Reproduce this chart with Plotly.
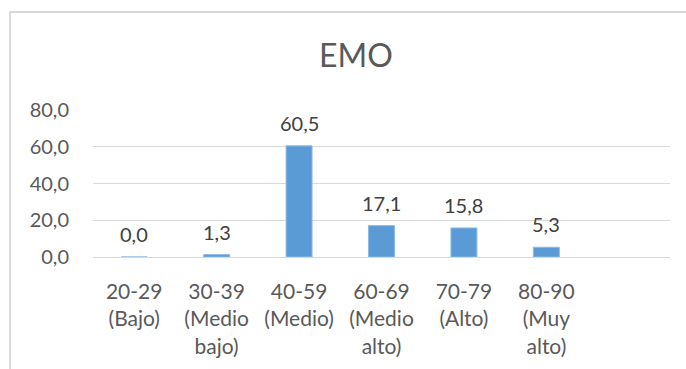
import plotly.graph_objects as go

# EMO score distribution by level
categories = ["20-29<br>(Bajo)", "30-39<br>(Medio<br>bajo)", "40-59<br>(Medio)",
              "60-69<br>(Medio<br>alto)", "70-79<br>(Alto)", "80-90<br>(Muy<br>alto)"]
values = [0.0, 1.3, 60.5, 17.1, 15.8, 5.3]
y_ticks = [0, 20, 40, 60, 80]

positions = list(range(len(categories)))
FONT = "Lato, 'Open Sans', sans-serif"
TEXT = "#595959"

fig = go.Figure()
fig.add_trace(go.Bar(
    x=positions, y=values, width=0.315,
    marker=dict(color="#5B9BD5", line=dict(color="#8DB9E4", width=1)),
    hoverinfo="skip",
))

# value labels above each bar
for xi, v in zip(positions, values):
    fig.add_annotation(
        x=xi, y=v, text=f"{v:.1f}".replace(".", ","), showarrow=False,
        yanchor="middle", yshift=23,
        font=dict(family=FONT, size=20, color="#404040"),
    )

# outer chart frame
L, R, T, B = 93, 16, 110, 112
W, H = 686 - L - R, 369 - T - B
def px_x(p):
    return (p - L) / W
def px_y(p):
    return (369 - B - p) / H
fig.add_shape(type="rect", xref="paper", yref="paper",
              x0=px_x(10), x1=px_x(700), y0=px_y(400), y1=px_y(12),
              line=dict(color="#D9D9D9", width=2), fillcolor="rgba(0,0,0,0)",
              layer="below")

fig.update_layout(
    width=686, height=369,
    margin=dict(l=L, r=R, t=T, b=B),
    paper_bgcolor="white", plot_bgcolor="white",
    separators=",.",
    showlegend=False,
    title=dict(text="EMO", x=356 / 686, xref="container", xanchor="center",
               y=1 - 56 / 369, yanchor="middle",
               font=dict(family=FONT, size=32, color=TEXT)),
    xaxis=dict(range=[-0.5, 6.5], tickvals=positions, ticktext=categories,
               showgrid=False, zeroline=False, showline=False, ticks="",
               ticklabelstandoff=20,
               tickfont=dict(family=FONT, size=21, color=TEXT)),
    yaxis=dict(range=[0, 80], tickvals=y_ticks, tickformat=".1f",
               showgrid=True, gridcolor="#D9D9D9", gridwidth=1,
               zeroline=True, zerolinecolor="#D9D9D9", zerolinewidth=1,
               showline=False, ticks="", ticklabelstandoff=23,
               tickfont=dict(family=FONT, size=20, color=TEXT)),
)

fig.write_html("out.html")
